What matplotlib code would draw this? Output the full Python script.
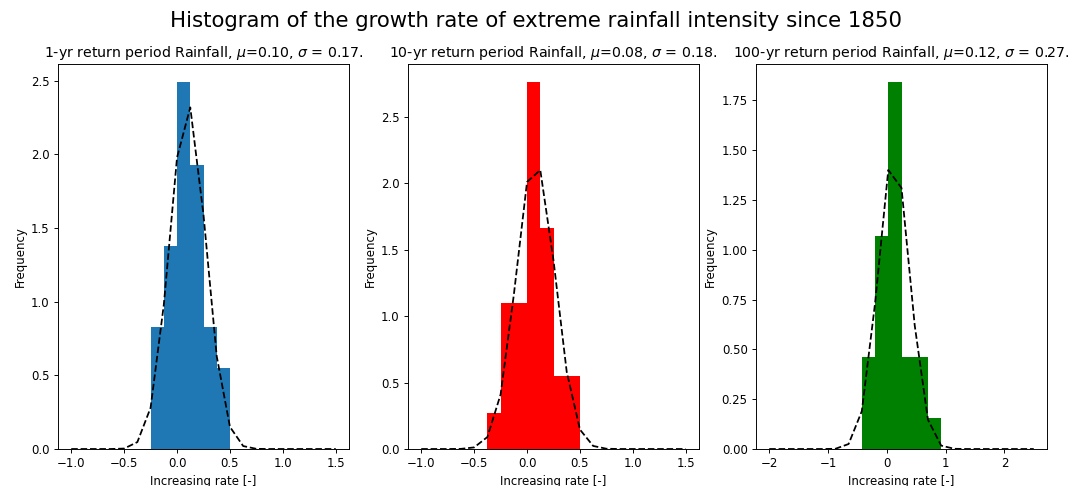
import matplotlib.pyplot as plt
import numpy as np

# histogramas (densidad)
edges1 = [-0.25, -0.125, 0.0, 0.125, 0.25, 0.375, 0.5]
dens1 = [0.83, 1.38, 2.49, 1.93, 0.83, 0.55]
edges2 = [-0.375, -0.25, -0.125, 0.0, 0.125, 0.25, 0.375, 0.5]
dens2 = [0.27, 1.10, 1.10, 2.76, 1.66, 0.55, 0.55]
edges3 = [-0.425, -0.2, 0.025, 0.25, 0.475, 0.7, 0.925]
dens3 = [0.46, 1.07, 1.84, 0.46, 0.46, 0.155]

# curvas discontinuas (pdf normal) leidas punto a punto
x1 = [-1.0, -0.875, -0.75, -0.625, -0.5, -0.375, -0.25, -0.125, 0.0, 0.125, 0.25,
      0.375, 0.5, 0.625, 0.75, 0.875, 1.0, 1.125, 1.25, 1.375, 1.5]
y1 = [0.0, 0.0, 0.0, 0.0, 0.003, 0.047, 0.28, 0.98, 1.98, 2.32, 1.59,
      0.63, 0.15, 0.02, 0.001, 0.0, 0.0, 0.0, 0.0, 0.0, 0.0]
x2 = x1
y2 = [0.0, 0.0, 0.0, 0.001, 0.012, 0.09, 0.41, 1.16, 2.01, 2.1, 1.42,
      0.58, 0.146, 0.023, 0.002, 0.0, 0.0, 0.0, 0.0, 0.0, 0.0]
x3 = [-2.0, -1.775, -1.55, -1.325, -1.1, -0.875, -0.65, -0.425, -0.2, 0.025, 0.25,
      0.475, 0.7, 0.925, 1.15, 1.375, 1.6, 1.825, 2.05, 2.275, 2.5]
y3 = [0.0, 0.0, 0.0, 0.0, 0.0, 0.001, 0.025, 0.19, 0.73, 1.40, 1.31,
      0.62, 0.147, 0.017, 0.001, 0.0, 0.0, 0.0, 0.0, 0.0, 0.0]

titulos = [r'1-yr return period Rainfall, $\mu$=0.10, $\sigma$ = 0.17.',
           r'10-yr return period Rainfall, $\mu$=0.08, $\sigma$ = 0.18.',
           r'100-yr return period Rainfall, $\mu$=0.12, $\sigma$ = 0.27.']
colores = ['#1f77b4', 'red', 'green']

DPI = 85
fig = plt.figure(figsize=(1073/DPI, 486/DPI), dpi=DPI)
lefts = [58/1073, 408/1073, 756/1073]
datos = [(edges1, dens1, x1, y1), (edges2, dens2, x2, y2), (edges3, dens3, x3, y3)]

for i in range(3):
    e, d, xx, yy = datos[i]
    ax = fig.add_axes([lefts[i], 1-449/486, 291/1073, 385/486])
    ax.hist(e[:-1], bins=e, weights=d, color=colores[i])
    ax.plot(xx, yy, 'k--')
    ax.set_title(titulos[i])
    ax.set_xlabel('Increasing rate [-]')
    ax.set_ylabel('Frequency')

fig.suptitle('Histogram of the growth rate of extreme rainfall intensity since 1850',
             fontsize=18, y=0.978)
fig.savefig('out.png', dpi=DPI)
